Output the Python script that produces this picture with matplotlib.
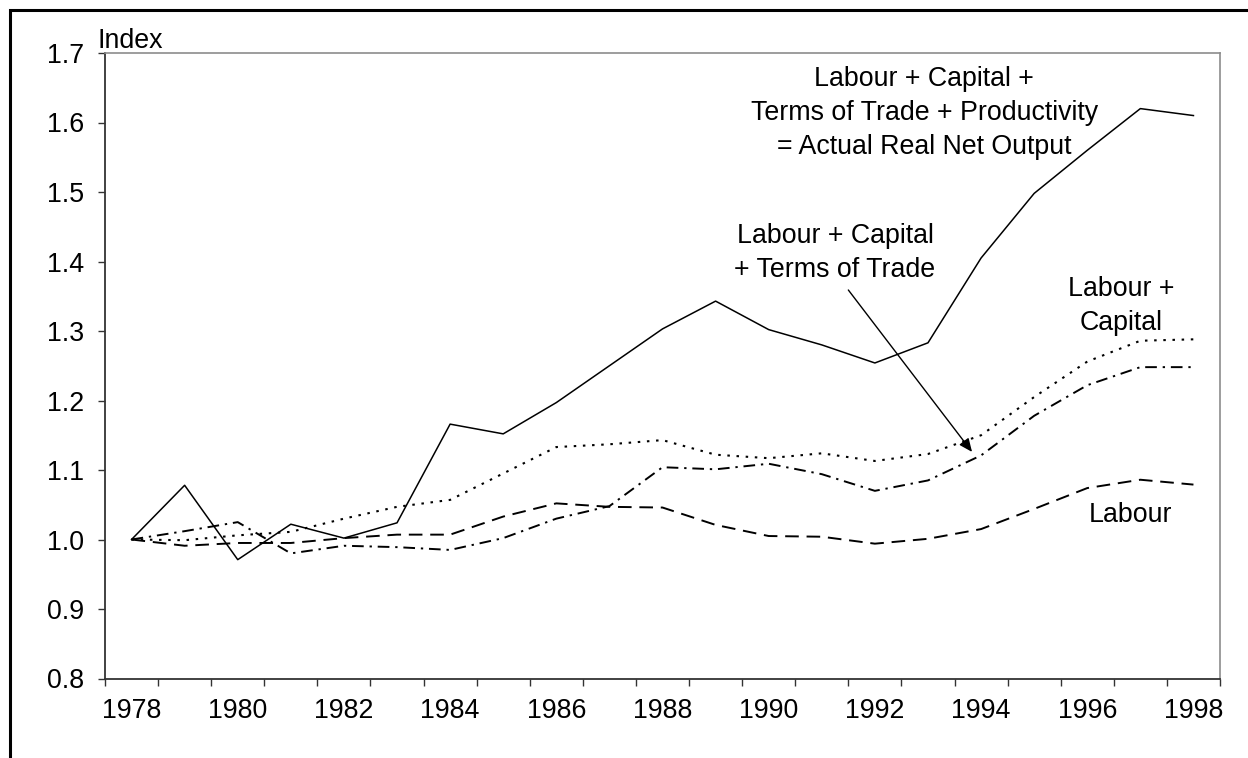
import numpy as np
import matplotlib
matplotlib.use("Agg")
import matplotlib.pyplot as plt
from matplotlib.patches import Rectangle

plt.rcParams['font.family'] = ['Liberation Sans', 'DejaVu Sans']

# data
years = list(range(1978, 1999))
actual = [1.000, 1.078, 0.971, 1.022, 1.002, 1.024, 1.166, 1.152, 1.197, 1.250, 1.303,
          1.343, 1.302, 1.280, 1.254, 1.283, 1.405, 1.498, 1.560, 1.620, 1.610]
lab_cap = [1.000, 0.999, 1.006, 1.011, 1.030, 1.047, 1.057, 1.095, 1.133, 1.137, 1.143,
           1.122, 1.117, 1.124, 1.113, 1.123, 1.150, 1.205, 1.256, 1.286, 1.288]
lab_cap_tot = [1.000, 1.012, 1.025, 0.980, 0.991, 0.989, 0.985, 1.002, 1.030, 1.048, 1.104,
               1.101, 1.109, 1.094, 1.070, 1.085, 1.121, 1.178, 1.222, 1.248, 1.248]
labour = [1.000, 0.991, 0.995, 0.995, 1.002, 1.007, 1.007, 1.033, 1.052, 1.047, 1.046,
          1.021, 1.005, 1.004, 0.994, 1.001, 1.015, 1.044, 1.074, 1.086, 1.079]
year_labels = [str(y) for y in years[::2]]
y_ticks = [0.8, 0.9, 1.0, 1.1, 1.2, 1.3, 1.4, 1.5, 1.6, 1.7]

FS = 19.3
x = np.arange(len(years))

fig = plt.figure(figsize=(12.48, 7.58), dpi=100)
ax = fig.add_axes([105 / 1248, 1 - 678.5 / 758, (1220 - 105) / 1248, (678.5 - 53) / 758])

ax.plot(x, actual, color='black', lw=1.1, ls='-')
ax.plot(x, lab_cap, color='black', lw=1.5, ls=(0, (1.2, 3.2)))
ax.plot(x, lab_cap_tot, color='black', lw=1.4, ls=(0, (6, 3, 1.2, 3)))
ax.plot(x, labour, color='black', lw=1.4, ls=(0, (7, 4)))

ax.set_xlim(-0.5, len(years) - 0.5)
ax.set_ylim(0.8, 1.7)

# category axis: ticks between categories, labels every other year
ax.set_xticks(np.arange(-0.5, len(years), 1.0))
ax.set_xticklabels([])
ax.set_xticks(x[::2], minor=True)
ax.set_xticklabels(year_labels, minor=True, fontsize=FS)
ax.tick_params(axis='x', which='major', direction='out', length=5, width=1, color='#333333')
ax.tick_params(axis='x', which='minor', length=0, pad=14)

ax.set_yticks(y_ticks)
ax.set_yticklabels([f"{v:.1f}" for v in y_ticks], fontsize=FS)
ax.tick_params(axis='y', direction='out', length=5, width=1, color='#333333', pad=10)

for side in ['left', 'bottom']:
    ax.spines[side].set_color('#333333')
    ax.spines[side].set_linewidth(1.3)
for side in ['top', 'right']:
    ax.spines[side].set_color('#8c8c8c')
    ax.spines[side].set_linewidth(1.2)

fig.text(98 / 1248, 1 - 48 / 758, "Index", fontsize=FS, ha='left', va='baseline')

ax.text(14.93, 1.613, "Labour + Capital +\nTerms of Trade + Productivity\n= Actual Real Net Output",
        fontsize=FS, ha='center', va='center', linespacing=1.4)
ax.text(13.25, 1.412, "Labour + Capital\n+ Terms of Trade",
        fontsize=FS, ha='center', va='center', linespacing=1.38)
ax.text(18.64, 1.336, "Labour +\nCapital", fontsize=FS, ha='center', va='center', linespacing=1.38)
ax.text(18.81, 1.035, "Labour", fontsize=FS, ha='center', va='center')

ax.annotate('', xy=(15.83, 1.126), xytext=(13.50, 1.359),
            arrowprops=dict(arrowstyle='-|>,head_length=0.8,head_width=0.35',
                            color='black', lw=1.0, shrinkA=0, shrinkB=0))

# outer frame of the original figure box
fig.patches.append(Rectangle((10 / 1248, -0.5), 2.0, 1.5 - 10 / 758, transform=fig.transFigure,
                             fill=False, edgecolor='black', lw=2.2))

fig.savefig("out.png", dpi=100)
